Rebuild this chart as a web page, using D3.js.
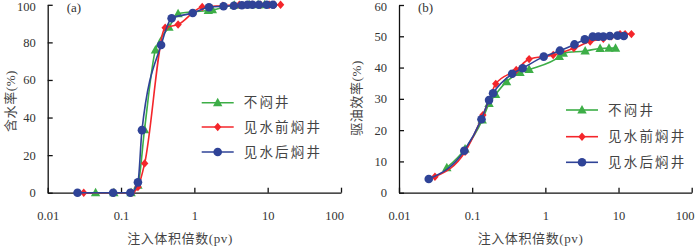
<!DOCTYPE html>
<html>
<head>
<meta charset="utf-8">
<script src="https://cdn.jsdelivr.net/npm/d3@7"></script>
<style>
  body { margin: 0; background: #fff; }
  svg text { fill: #333; }
</style>
</head>
<body>
<div class="main"></div>
<script>
// Data
const seriesNames = ['不闷井', '见水前焖井', '见水后焖井'];
const xTickValues = [0.01, 0.1, 1, 10, 100];
const xTickLabels = ['0.01', '0.1', '1', '10', '100'];
const xTitle = '注入体积倍数(pv)';

// 不闷井
const greenPV    = [0.045, 0.08, 0.137, 0.17, 0.209, 0.295, 0.45, 0.6, 1.55, 1.76, 3.5, 5.6, 7.4, 9.1];
const greenWater = [0, 0, 0, 4, 33.5, 76, 88, 95.2, 97, 97.3, 99.8, 100, 100, 100];
const greenOil   = [8, 14, 23.2, 28.5, 31.4, 35.5, 38.4, 39.4, 43.5, 44.6, 45.3, 46.1, 46.2, 46.2];

// 见水前焖井
const redPV    = [0.031, 0.08, 0.14, 0.17, 0.21, 0.4, 0.6, 1.28, 2.45, 4.1, 6.2, 8, 10.5, 12.3, 15];
const redWater = [0, 0, 0, 3, 15.6, 87.8, 89.5, 98.8, 99.5, 100, 100, 100, 100, 100, 100];
const redOil   = [5.1, 13.1, 24.8, 29.6, 34.8, 39.2, 42.7, 44, 46.2, 48.3, 49.2, 50, 50.7, 50.7, 50.7];

// 见水后焖井
const bluePV    = [0.0255, 0.078, 0.134, 0.17, 0.193, 0.352, 0.49, 0.95, 1.58, 2.5, 3.46, 4.45, 5.3, 6.2, 7.6, 9.7, 11.8];
const blueWater = [0, 0, 0, 5.5, 33.3, 78.6, 92.8, 95.6, 98.7, 99.2, 99.5, 99.8, 100, 100, 100, 100, 100];
const blueOil   = [4.4, 13.4, 23.5, 29.6, 31.8, 38, 39.8, 43.5, 45.4, 47.4, 49, 49.9, 49.9, 49.9, 50.1, 50.2, 50.1];

const colors = ['#3dae47', '#f4262b', '#2f4397'];
const shapes = ['triangle', 'diamond', 'circle'];
const serif = '"Liberation Serif", "DejaVu Serif", serif';
const cjk = '"Liberation Serif", "Noto Sans CJK SC", sans-serif';

//Canvas
const svg = d3.select('.main')
              .append('svg')
              .attr('width', 700)
              .attr('height', 246);

function zip(xs, ys) { return xs.map((x, i) => [x, ys[i]]); }

function drawMarker(g, shape, color, cx, cy) {
  if (shape === 'circle') {
    g.append('circle').attr('cx', cx).attr('cy', cy).attr('r', 4.3).attr('fill', color);
  } else if (shape === 'diamond') {
    g.append('path').attr('d', `M${cx},${cy-4.2} L${cx+3.7},${cy} L${cx},${cy+4.2} L${cx-3.7},${cy}Z`).attr('fill', color);
  } else {
    g.append('path').attr('d', `M${cx},${cy-5} L${cx+4.7},${cy+3.5} L${cx-4.7},${cy+3.5}Z`).attr('fill', color);
  }
}

function drawPanel(p) {
  const g = svg.append('g');

  const x = d3.scaleLog().domain([0.01, 100]).range([p.left, p.right]);
  const y = d3.scaleLinear().domain([0, p.yMax]).range([p.bottom, p.top]);

  //Axes
  const xAxis = g.append('g')
    .attr('transform', `translate(0, ${p.bottom})`)
    .call(d3.axisBottom(x).tickValues(xTickValues)
      .tickFormat((d, i) => xTickLabels[i])
      .tickSize(-5).tickSizeOuter(0).tickPadding(18));
  const yAxis = g.append('g')
    .attr('transform', `translate(${p.left}, 0)`)
    .call(d3.axisLeft(y).tickValues(p.yTicks)
      .tickSize(-5).tickSizeOuter(0).tickPadding(12));

  // last x label sits a little left of its tick in the original
  xAxis.selectAll('.tick text').filter(d => d === 100).attr('x', -7);
  // keep the top y label inside the page
  yAxis.selectAll('.tick text').filter(d => d === p.yMax).attr('y', 1.5);

  [xAxis, yAxis].forEach(a => {
    a.select('.domain').attr('stroke', '#111').attr('stroke-width', 1.3);
    a.selectAll('.tick line').attr('stroke', '#111').attr('stroke-width', 1.3);
    a.selectAll('.tick text').attr('font-size', 12.5)
      .style('font-family', serif).style('fill', '#333');
  });

  //Series
  const line = d3.line().x(d => x(d[0])).y(d => y(d[1])).curve(d3.curveMonotoneX);
  p.series.forEach((s, i) => {
    const pts = zip(s.pv, s.val);
    g.append('path').datum(pts)
      .attr('d', line).attr('fill', 'none')
      .attr('stroke', colors[i]).attr('stroke-width', 1.6);
    const mg = g.append('g');
    pts.forEach(d => drawMarker(mg, shapes[i], colors[i], x(d[0]), y(d[1])));
  });

  //Legend
  seriesNames.forEach((name, i) => {
    const ly = p.legendY[i];
    g.append('line').attr('x1', p.legendX).attr('x2', p.legendX + 32)
      .attr('y1', ly).attr('y2', ly)
      .attr('stroke', colors[i]).attr('stroke-width', 1.6);
    drawMarker(g, shapes[i], colors[i], p.legendX + 16, ly);
    g.append('text').attr('x', p.legendX + 42).attr('y', ly)
      .attr('dy', '0.35em').attr('font-size', 13.5).attr('letter-spacing', 2.2)
      .style('font-family', cjk).style('fill', '#444')
      .text(name);
  });

  //Labels
  g.append('text').attr('x', p.left + 19).attr('y', 7).attr('dy', '0.35em')
    .attr('font-size', 13).style('font-family', serif).text(p.tag);
  g.append('text').attr('x', p.xTitleX).attr('y', 238).attr('dy', '0.35em')
    .attr('text-anchor', 'middle').attr('font-size', 13).attr('letter-spacing', 0.6)
    .style('font-family', cjk).style('fill', '#444')
    .text(xTitle);
  g.append('text')
    .attr('transform', `translate(${p.yTitleX}, ${p.yTitleY}) rotate(-90)`)
    .attr('text-anchor', 'middle').attr('dy', '0.35em')
    .attr('font-size', 13).attr('letter-spacing', 0.6)
    .style('font-family', cjk).style('fill', '#444')
    .text(p.yTitle);
}

drawPanel({
  left: 47.7, right: 341, top: 4.8, bottom: 192.7,
  yMax: 100, yTicks: [0, 20, 40, 60, 80, 100],
  series: [
    {pv: greenPV, val: greenWater},
    {pv: redPV, val: redWater},
    {pv: bluePV, val: blueWater}
  ],
  legendX: 201.7, legendY: [102.7, 127, 152],
  tag: '(a)', xTitleX: 180, yTitle: '含水率(%)', yTitleX: 10, yTitleY: 101
});

drawPanel({
  left: 399, right: 691.7, top: 5, bottom: 192.7,
  yMax: 60, yTicks: [0, 10, 20, 30, 40, 50, 60],
  series: [
    {pv: greenPV, val: greenOil},
    {pv: redPV, val: redOil},
    {pv: bluePV, val: blueOil}
  ],
  legendX: 566, legendY: [110, 136.7, 162.3],
  tag: '(b)', xTitleX: 530.5, yTitle: '驱油效率(%)', yTitleX: 356, yTitleY: 98
});
</script>
</body>
</html>
